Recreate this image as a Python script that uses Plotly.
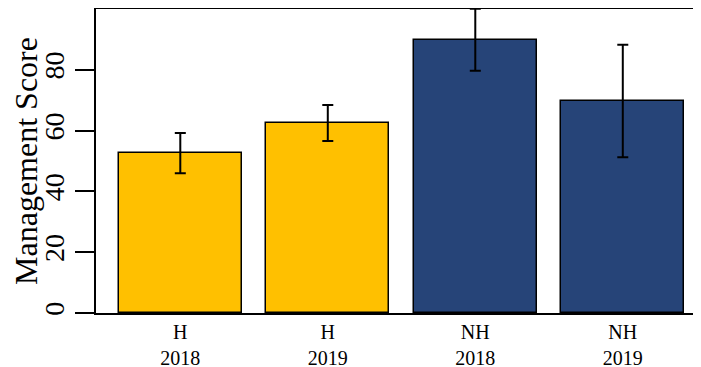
import plotly.graph_objects as go

groups = ["H", "H", "NH", "NH"]
years = ["2018", "2019", "2018", "2019"]
scores = [52.6, 62.5, 89.9, 69.7]
errors = [6.6, 5.9, 10.2, 18.5]
colors = ["#FFC000", "#FFC000", "#264478", "#264478"]
yticks = [0, 20, 40, 60, 80]

xpos = list(range(len(scores)))
ticktext = [f"{g}<br>{y}" for g, y in zip(groups, years)]

fig = go.Figure(go.Bar(
    x=xpos, y=scores, width=0.834,
    marker=dict(color=colors, line=dict(color="black", width=1.5)),
    error_y=dict(type="data", array=errors, visible=True,
                 color="black", thickness=2, width=5.5),
))

font_family = "Liberation Serif"
fig.update_layout(
    width=685, height=359,
    margin=dict(l=88, r=0, t=1, b=54, autoexpand=False),
    plot_bgcolor="white", paper_bgcolor="white",
    showlegend=False,
    font=dict(family=font_family, color="black"),
    bargap=0,
)
fig.update_xaxes(
    range=[-0.5715, 3.476], tickvals=xpos, ticktext=ticktext,
    showline=True, linecolor="black", linewidth=2, mirror=True,
    ticks="", showgrid=False, zeroline=False, automargin=False,
    tickfont=dict(size=20, family=font_family),
)
fig.update_yaxes(
    range=[0, 100], tickvals=yticks,
    showline=True, linecolor="black", linewidth=2, mirror=False,
    ticks="outside", ticklen=19, tickwidth=2, tickcolor="black",
    tickangle=-90, showgrid=False, zeroline=False, automargin=False,
    tickfont=dict(size=28, family=font_family),
    title=dict(text="Management Score", font=dict(size=32, family=font_family)),
)
fig.write_html("out.html")
